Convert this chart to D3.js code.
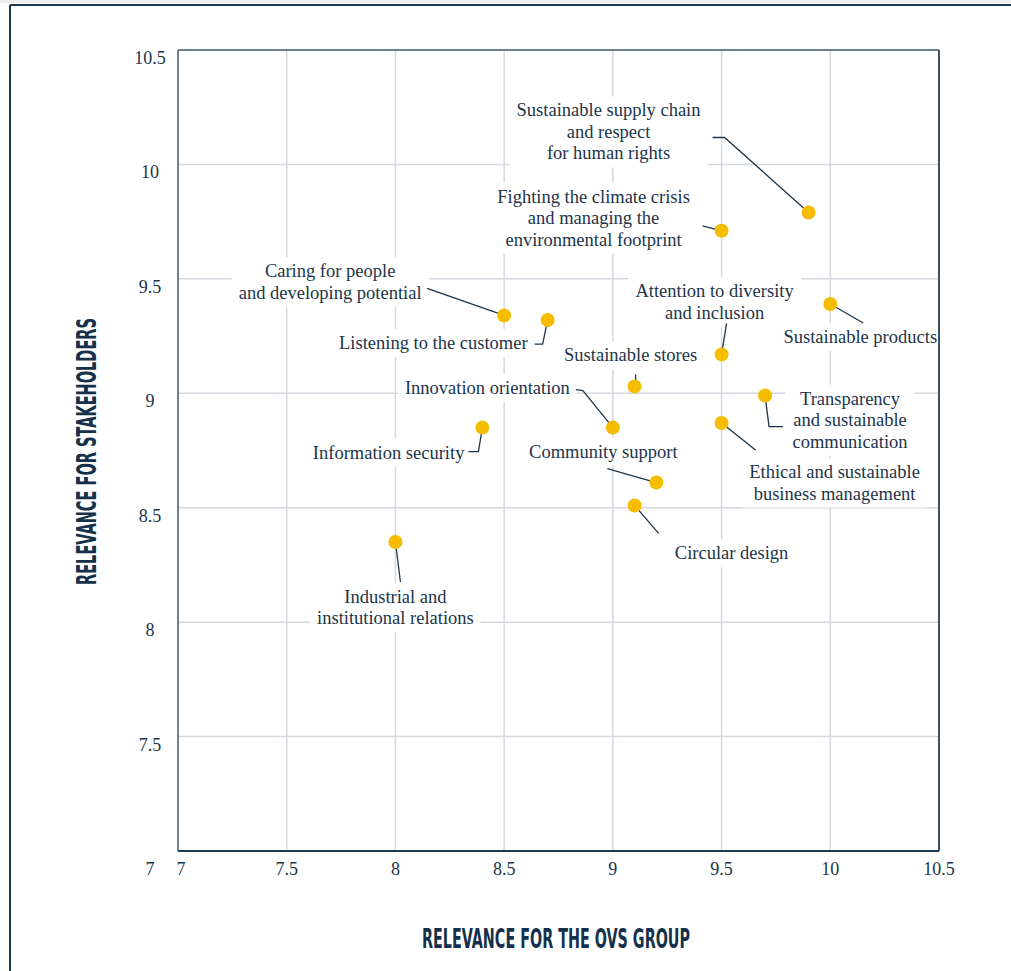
<!DOCTYPE html>
<html>
<head>
<meta charset="utf-8">
<script src="https://cdn.jsdelivr.net/npm/d3@7"></script>
<style>
  body { margin: 0; background: #fff; }
  text { font-family: "Liberation Serif", "DejaVu Serif", serif; fill: #1c3449; }
  .axisTitle { font-family: "Liberation Sans Narrow", "DejaVu Sans Condensed", "Roboto", sans-serif; font-weight: bold; font-stretch: condensed; fill: #14304a; }
</style>
</head>
<body>
<script>
// topics, OVS relevance (x) and stakeholder relevance (y)
const topics = [
  "Sustainable supply chain\nand respect\nfor human rights",
  "Fighting the climate crisis\nand managing the\nenvironmental footprint",
  "Caring for people\nand developing potential",
  "Listening to the customer",
  "Attention to diversity\nand inclusion",
  "Sustainable products",
  "Sustainable stores",
  "Innovation orientation",
  "Information security",
  "Transparency\nand sustainable\ncommunication",
  "Ethical and sustainable\nbusiness management",
  "Community support",
  "Circular design",
  "Industrial and\ninstitutional relations"
];
const ovsRelevance =         [9.9, 9.5, 8.5, 8.7, 9.5, 10, 9.1, 9, 8.4, 9.7, 9.5, 9.2, 9.1, 8];
const stakeholderRelevance = [9.79, 9.71, 9.34, 9.32, 9.17, 9.39, 9.03, 8.85, 8.85, 8.99, 8.87, 8.61, 8.51, 8.35];
const xTicks = [7, 7.5, 8, 8.5, 9, 9.5, 10, 10.5];
const yTicks = [7, 7.5, 8, 8.5, 9, 9.5, 10, 10.5];

// where each label sits relative to its dot (px), and its leader line
const labelLayout = [
  { dx: -200, dy: -96, anchor: "middle", lh: 21.5, leader: [[-96, -75], [-84, -75], [0, 0]] },
  { dx: -128, dy: -28, anchor: "middle", lh: 21.5, leader: [[-19, -5], [0, 0]] },
  { dx: -174, dy: -38, anchor: "middle", lh: 21.5, leader: [[-77, -27], [0, 0]] },
  { dx: -20, dy: 29, anchor: "end", lh: 21.5, leader: [[-13, 24], [-5, 24], [0, 0]] },
  { dx: -7, dy: -57, anchor: "middle", lh: 21.5, leader: [[5, -31], [0, 0]] },
  { dx: 30, dy: 39, anchor: "middle", lh: 21.5, leader: [[0, 0], [33, 19]] },
  { dx: -4, dy: -25, anchor: "middle", lh: 21.5, leader: [[1, -12], [1, 0]] },
  { dx: -43, dy: -34, anchor: "end", lh: 21.5, leader: [[-37, -38], [-30, -37], [0, 0]] },
  { dx: -18, dy: 31, anchor: "end", lh: 21.5, leader: [[-14, 24], [-4, 24], [0, 0]] },
  { dx: 85, dy: 9, anchor: "middle", lh: 21.5, leader: [[0, 0], [4, 31], [18, 31]] },
  { dx: 113, dy: 55, anchor: "middle", lh: 21.5, leader: [[0, 0], [34, 27]] },
  { dx: -53, dy: -25, anchor: "middle", lh: 21.5, leader: [[-49, -14], [0, 0]] },
  { dx: 97, dy: 54, anchor: "middle", lh: 21.5, leader: [[0, 0], [24, 28]] },
  { dx: 0, dy: 61, anchor: "middle", lh: 20.5, leader: [[0, 0], [5, 40]] }
];

const width = 1011, height = 971;
const plot = { left: 178, right: 939, top: 50, bottom: 851 };

const svg = d3.select("body").append("svg")
  .attr("width", width)
  .attr("height", height);

// page frame
svg.append("rect").attr("x", 0).attr("y", 0).attr("width", width).attr("height", 3).attr("fill", "#eceef0");
svg.append("line").attr("x1", 10).attr("x2", width).attr("y1", 5).attr("y2", 5)
  .attr("stroke", "#1d3a55").attr("stroke-width", 2);
svg.append("line").attr("x1", 10).attr("x2", 10).attr("y1", 5).attr("y2", height)
  .attr("stroke", "#1d3a55").attr("stroke-width", 2);

const x = d3.scaleLinear().domain([7, 10.5]).range([plot.left, plot.right]);
const y = d3.scaleLinear().domain([7, 10.5]).range([plot.bottom, plot.top]);

// grid
const grid = svg.append("g");
grid.selectAll("line.v")
  .data(xTicks.filter(d => d > 7 && d < 10.5))
  .enter().append("line")
  .attr("x1", d => x(d)).attr("x2", d => x(d))
  .attr("y1", plot.top).attr("y2", plot.bottom)
  .attr("stroke", "#d3d9de").attr("stroke-width", 1.5);
grid.selectAll("line.h")
  .data(yTicks.filter(d => d > 7 && d < 10.5))
  .enter().append("line")
  .attr("x1", plot.left).attr("x2", plot.right)
  .attr("y1", d => y(d)).attr("y2", d => y(d))
  .attr("stroke", "#d3d9de").attr("stroke-width", 1.5);

// tick labels
svg.append("g").selectAll("text")
  .data(xTicks)
  .enter().append("text")
  .attr("x", d => x(d) + (d === 7 ? 3 : 0))
  .attr("y", plot.bottom + 24)
  .attr("text-anchor", "middle")
  .style("font-size", "18px")
  .text(d => d);

svg.append("g").selectAll("text")
  .data(yTicks)
  .enter().append("text")
  .attr("x", 150)
  .attr("y", d => d === 7 ? plot.bottom + 24 : y(d) + 14)
  .attr("text-anchor", "middle")
  .style("font-size", "18px")
  .text(d => d);

const pts = topics.map((t, i) => ({
  name: t,
  cx: x(ovsRelevance[i]),
  cy: y(stakeholderRelevance[i]),
  lay: labelLayout[i]
}));

// labels with white knockout boxes
const labels = svg.append("g");
pts.forEach(p => {
  const g = labels.append("g");
  const txt = g.append("text")
    .attr("text-anchor", p.lay.anchor)
    .style("font-size", "18.5px");
  p.name.split("\n").forEach((line, k) => {
    txt.append("tspan")
      .attr("x", p.cx + p.lay.dx)
      .attr("y", p.cy + p.lay.dy + k * p.lay.lh)
      .text(line);
  });
  const bb = txt.node().getBBox();
  g.insert("rect", "text")
    .attr("x", bb.x - 7).attr("y", bb.y - 4)
    .attr("width", bb.width + 14).attr("height", bb.height + 8)
    .attr("fill", "#fff");
});

// plot frame
svg.append("line").attr("x1", plot.left).attr("x2", plot.right).attr("y1", plot.top).attr("y2", plot.top)
  .attr("stroke", "#6d8291").attr("stroke-width", 2);
svg.append("line").attr("x1", plot.left).attr("x2", plot.left).attr("y1", plot.top).attr("y2", plot.bottom)
  .attr("stroke", "#6d8291").attr("stroke-width", 2);
svg.append("line").attr("x1", plot.right).attr("x2", plot.right).attr("y1", plot.top).attr("y2", plot.bottom)
  .attr("stroke", "#3a5265").attr("stroke-width", 2);
svg.append("line").attr("x1", plot.left).attr("x2", plot.right).attr("y1", plot.bottom).attr("y2", plot.bottom)
  .attr("stroke", "#1f3a50").attr("stroke-width", 2);

// leader lines
svg.append("g").selectAll("polyline")
  .data(pts)
  .enter().append("polyline")
  .attr("points", p => p.lay.leader.map(q => (p.cx + q[0]) + "," + (p.cy + q[1])).join(" "))
  .attr("fill", "none")
  .attr("stroke", "#1c3449")
  .attr("stroke-width", 1.3);

// dots
svg.append("g").selectAll("circle")
  .data(pts)
  .enter().append("circle")
  .attr("cx", p => p.cx)
  .attr("cy", p => p.cy)
  .attr("r", 7)
  .attr("fill", "#f5bc00");

// axis titles
svg.append("text")
  .attr("class", "axisTitle")
  .attr("x", 422).attr("y", 948)
  .attr("textLength", 268).attr("lengthAdjust", "spacingAndGlyphs")
  .style("font-size", "27px")
  .text("RELEVANCE FOR THE OVS GROUP");

svg.append("text")
  .attr("class", "axisTitle")
  .attr("transform", "translate(96,585) rotate(-90)")
  .attr("x", 0).attr("y", 0)
  .attr("textLength", 267).attr("lengthAdjust", "spacingAndGlyphs")
  .style("font-size", "27px")
  .text("RELEVANCE FOR STAKEHOLDERS");
</script>
</body>
</html>
